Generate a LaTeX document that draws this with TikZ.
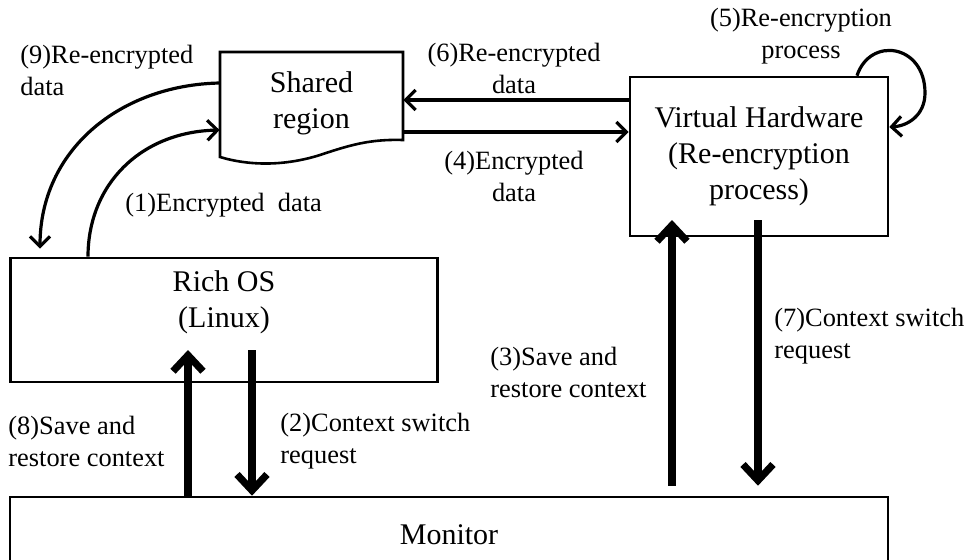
\documentclass[tikz,border=0pt]{standalone}
\usepackage{fontspec}
\setmainfont{Liberation Serif}
\usetikzlibrary{arrows.meta}

\begin{document}
\begin{tikzpicture}[x=0.5pt,y=-0.5pt,
  box/.style={draw, line width=1.3pt, inner sep=0pt},
  boxtext/.style={font=\fontsize{15}{18}\selectfont, align=center},
  lbl/.style={font=\fontsize{13.2}{16}\selectfont, inner sep=0pt},
  dataarrow/.style={line width=1.6pt, -{Straight Barb[length=5pt,width=10pt]}},
  swarrow/.style={line width=3.6pt, -{Straight Barb[length=8pt,width=15pt]}}]
\useasboundingbox (0,0) rectangle (971,559);
\clip (0,0) rectangle (971,559);

%boxes
\node[minimum width=91.5pt, minimum height=51.5pt, boxtext] (shared) at (311.5,103.5) {Shared\\region};
\draw[line width=1.3pt] (220,52) -- (403,52) -- (403,140)
  .. controls (370,139) and (350,145) .. (320,155)
  .. controls (285,166) and (250,166) .. (220,157) -- cycle;
\node[box, minimum width=213.5pt, minimum height=62pt] (rich) at (224,320) {};
\node[boxtext] (richtext) at (224,302) {Rich OS\\(Linux)};
\node[box, boxtext, minimum width=129pt, minimum height=79.5pt] (vh) at (759,156.5) {Virtual Hardware\\(Re-encryption\\process)};
\node[box, boxtext, minimum width=439pt, minimum height=38pt] (monitor) at (449,535) {Monitor};

%data flow
\draw[dataarrow] (rich.north -| 88,0) .. controls (88,185) and (140,132) .. (shared.west |- 0,130);
\draw[dataarrow] (shared.east |- 0,132) -- (vh.west |- 0,132);
\draw[dataarrow] (vh.north -| 857,0) .. controls (870,36) and (925,44) .. (925,93)
  .. controls (925,115) and (908,126) .. (vh.east |- 0,127);
\draw[dataarrow] (vh.west |- 0,100) -- (shared.east |- 0,100);
\draw[dataarrow, shorten >=4pt] (shared.west |- 0,83) .. controls (120,85) and (40,150) .. (rich.north -| 40,0);

%context switches
\coordinate (os8) at (188,350);
\coordinate (os2) at (252,350);
\coordinate (vh3) at (672,220);
\coordinate (vh7) at (758,220);
\draw[swarrow] (monitor.north -| os8) -- (os8);
\draw[swarrow] (os2) -- (monitor.north -| os2);
\draw[swarrow, shorten <=5pt] (monitor.north -| vh3) -- (vh3);
\draw[swarrow, shorten >=5pt] (vh7) -- (monitor.north -| vh7);

%labels
\node[lbl, anchor=west, align=left] (l1) at (125,205) {(1)Encrypted\ \ data};
\node[lbl, anchor=west, align=left] (l2) at (280,441) {(2)Context switch\\request};
\node[lbl, anchor=west, align=left] (l3) at (490,372) {(3)Save and\\restore context};
\node[lbl, align=center] (l4) at (514,176) {(4)Encrypted\\data};
\node[lbl, align=center] (l5) at (801,36) {(5)Re-encryption\\process};
\node[lbl, align=center] (l6) at (514,68) {(6)Re-encrypted\\data};
\node[lbl, anchor=west, align=left] (l7) at (774,336) {(7)Context switch\\request};
\node[lbl, anchor=west, align=left] (l8) at (8,441) {(8)Save and\\restore context};
\node[lbl, anchor=west, align=left] (l9) at (20,70) {(9)Re-encrypted\\data};

\end{tikzpicture}
\end{document}
